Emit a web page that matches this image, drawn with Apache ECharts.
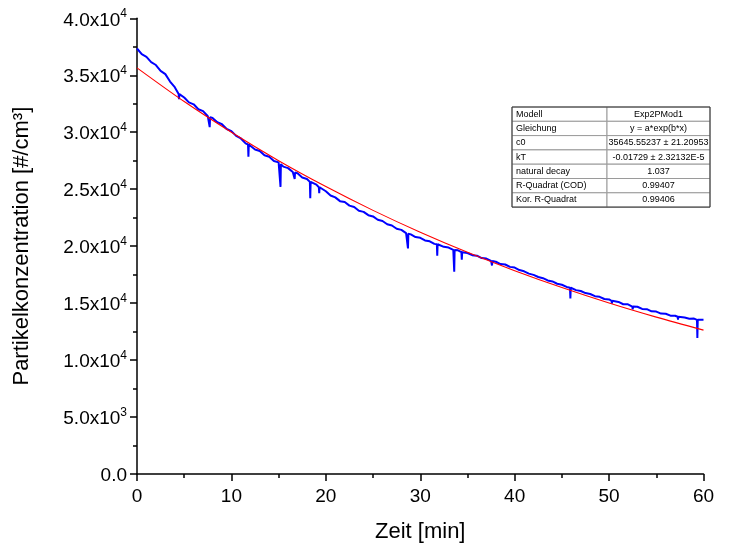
<!DOCTYPE html>
<html><head><meta charset="utf-8">
<script src="https://cdn.jsdelivr.net/npm/echarts@6/dist/echarts.min.js"></script>
<style>html,body{margin:0;padding:0;background:#fff}#c{width:734px;height:549px}</style>
</head><body><div id="c"></div>
<script>
// Measured particle concentration (blue), every 0.5 min
const timeMin = [
 0,0.5,1,1.5,2,2.5,3,3.5,4,4.5,5,5.5,6,6.5,7,7.5,8,8.5,9,9.5,
 10,10.5,11,11.5,12,12.5,13,13.5,14,14.5,15,15.5,16,16.5,17,17.5,18,18.5,19,19.5,
 20,20.5,21,21.5,22,22.5,23,23.5,24,24.5,25,25.5,26,26.5,27,27.5,28,28.5,29,29.5,
 30,30.5,31,31.5,32,32.5,33,33.5,34,34.5,35,35.5,36,36.5,37,37.5,38,38.5,39,39.5,
 40,40.5,41,41.5,42,42.5,43,43.5,44,44.5,45,45.5,46,46.5,47,47.5,48,48.5,49,49.5,
 50,50.5,51,51.5,52,52.5,53,53.5,54,54.5,55,55.5,56,56.5,57,57.5,58,58.5,59,59.5,60
];
const concentration = [
 37350,36850,36620,36150,35900,35380,35100,34450,33950,33250,33050,32620,32450,32020,31850,31400,31250,30880,30700,30280,
 30100,29680,29450,29020,28850,28480,28350,27980,27850,27480,27350,26980,26850,26500,26400,26020,25900,25520,25400,25020,
 24820,24450,24280,23950,23880,23560,23430,23100,23010,22720,22610,22320,22210,21920,21810,21530,21430,21150,21030,20800,
 20730,20500,20430,20200,20150,19940,19880,19670,19630,19430,19400,19210,19160,18950,18910,18710,18630,18430,18390,18180,
 18120,17900,17790,17590,17480,17290,17190,16990,16900,16700,16610,16420,16330,16140,16060,15880,15800,15610,15550,15360,
 15320,15120,15100,14900,14890,14700,14680,14490,14470,14280,14260,14080,14070,13900,13890,13740,13730,13620,13640,13480,13530
];
// Short downward spikes in the measurement
const dipTime = [4.45,7.7,11.8,15.2,16.7,18.35,19.3,28.7,31.8,33.6,34.4,37.6,45.9,50.3,52.5,57.3,59.35];
const dipLow  = [32900,30450,27850,25200,25900,24200,24650,19800,19150,17750,18800,18300,15400,14950,14450,13550,11950];
const dipBase = [33350,31320,28920,27200,26460,25640,25170,21100,20170,19660,19470,18690,16350,15200,14700,13800,13530];
// Exponential fit curve (red)
const fitTime = [0,5,10,15,20,25,30,35,40,45,50,55,60];
const fitConc = [35650,32690,29990,27500,25230,23140,21220,19460,17850,16370,15010,13770,12630];
// Fit result table
const tableLabels = ['Modell','Gleichung','c0','kT','natural decay','R-Quadrat (COD)','Kor. R-Quadrat'];
const tableValues = ['Exp2PMod1','y = a*exp(b*x)','35645.55237 \u00b1 21.20953','-0.01729 \u00b1 2.32132E-5','1.037','0.99407','0.99406'];

const measured = timeMin.map((t, i) => [t, concentration[i]]);
dipTime.forEach((t, i) => {
  measured.push([t - 0.04, dipBase[i]], [t, dipLow[i]], [t + 0.04, dipBase[i]]);
});
measured.sort((a, b) => a[0] - b[0]);
const fit = fitTime.map((t, i) => [t, fitConc[i]]);

const FONT = 'Liberation Sans, Arial, sans-serif';
const tx = 512, ty = 107, tw = 198, colW = 95, rowH = 14.3;
const graphics = [];
tableLabels.forEach((lab, i) => {
  const y = ty + i * rowH;
  graphics.push({type:'rect', shape:{x:tx, y:y, width:colW, height:rowH}, style:{fill:'#fff', stroke:'#9a9a9a', lineWidth:1}, z:100});
  graphics.push({type:'rect', shape:{x:tx+colW, y:y, width:tw-colW, height:rowH}, style:{fill:'#fff', stroke:'#9a9a9a', lineWidth:1}, z:100});
  graphics.push({type:'text', x:tx+4, y:y+rowH/2, style:{text:lab, font:'9px '+FONT, fill:'#000', verticalAlign:'middle', align:'left'}, z:101});
  graphics.push({type:'text', x:tx+colW+(tw-colW)/2, y:y+rowH/2, style:{text:tableValues[i], font:'9px '+FONT, fill:'#000', verticalAlign:'middle', align:'center'}, z:101});
});
graphics.push({type:'rect', shape:{x:tx, y:ty, width:tw, height:rowH*tableLabels.length}, style:{fill:null, stroke:'#333', lineWidth:1}, z:102});

const chart = echarts.init(document.getElementById('c'), null, {renderer:'canvas'});
chart.setOption({
  backgroundColor:'#fff',
  animation:false,
  textStyle:{fontFamily:FONT},
  grid:{left:137, right:30.5, top:18.3, bottom:75, containLabel:false},
  xAxis:{
    type:'value', min:0, max:60, interval:10,
    name:'Zeit [min]', nameLocation:'middle', nameGap:47,
    nameTextStyle:{fontSize:22, color:'#000', fontFamily:FONT},
    axisLine:{show:true, lineStyle:{color:'#000', width:1.5}},
    axisTick:{show:true, inside:false, length:7, lineStyle:{color:'#000', width:1.5}},
    minorTick:{show:true, splitNumber:2, length:4, lineStyle:{color:'#000', width:1.5}},
    axisLabel:{fontSize:19, color:'#000', margin:13, fontFamily:FONT},
    splitLine:{show:false}
  },
  yAxis:{
    type:'value', min:0, max:40000, interval:5000,
    name:'Partikelkonzentration [#/cm\u00b3]', nameLocation:'middle', nameGap:104, nameRotate:90,
    nameTextStyle:{fontSize:22, color:'#000', fontFamily:FONT},
    axisLine:{show:true, lineStyle:{color:'#000', width:1.5}},
    axisTick:{show:true, inside:false, length:7, lineStyle:{color:'#000', width:1.5}},
    minorTick:{show:true, splitNumber:2, length:4, lineStyle:{color:'#000', width:1.5}},
    axisLabel:{
      fontSize:19, color:'#000', margin:10, fontFamily:FONT,
      formatter:function(v){
        if (v === 0) return '{m|0.0}';
        const e = Math.floor(Math.log10(v));
        const m = (v / Math.pow(10, e)).toFixed(1);
        return '{m|' + m + 'x10}{e|' + e + '}';
      },
      rich:{
        m:{fontSize:19, color:'#000', fontFamily:FONT, verticalAlign:'bottom', lineHeight:23},
        e:{fontSize:12, color:'#000', fontFamily:FONT, verticalAlign:'bottom', padding:[0,0,10,0]}
      }
    },
    splitLine:{show:false}
  },
  series:[
    {type:'line', data:measured, showSymbol:false, symbol:'none', lineStyle:{color:'#0000ff', width:2}, z:2},
    {type:'line', data:fit, smooth:0.3, showSymbol:false, symbol:'none', lineStyle:{color:'#ff0000', width:1.1}, z:3}
  ],
  graphic:graphics
});
</script>
</body></html>
